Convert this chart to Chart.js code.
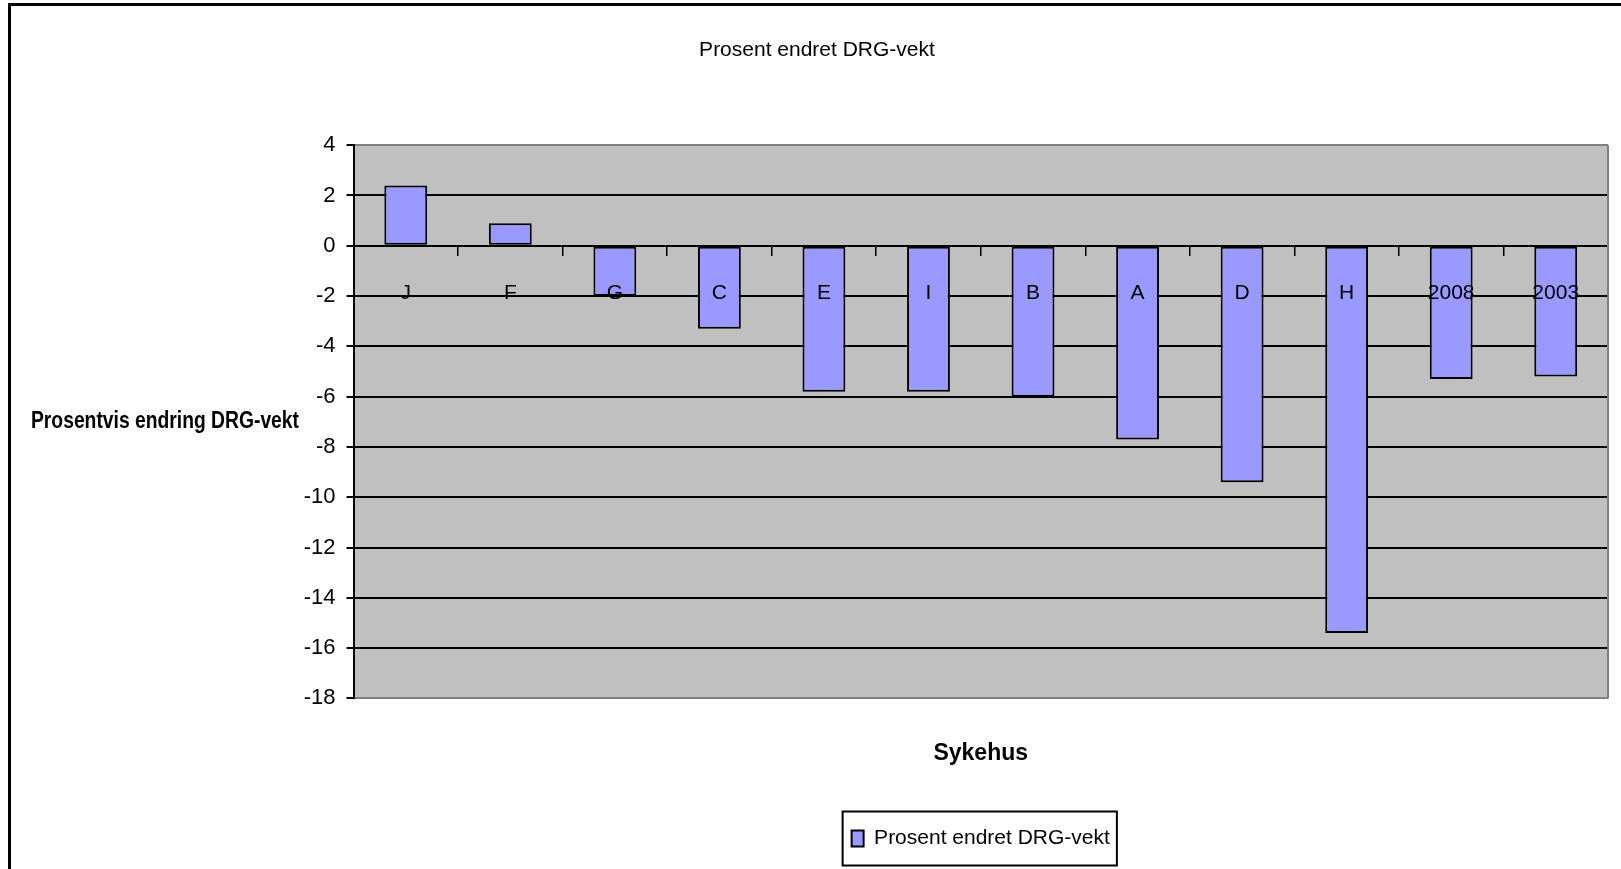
<!DOCTYPE html>
<html>
<head>
<meta charset="utf-8">
<script src="https://cdn.jsdelivr.net/npm/chart.js@4"></script>
<style>
  html, body { margin: 0; padding: 0; background: #fff; }
  #wrap { width: 1621px; height: 869px; }
</style>
</head>
<body>
<div id="wrap"><canvas id="drgChart"></canvas></div>
<script>
const sykehus = ["J", "F", "G", "C", "E", "I", "B", "A", "D", "H", "2008", "2003"];
const endring = [2.4, 0.9, -2.0, -3.3, -5.8, -5.8, -6.0, -7.7, -9.4, -15.4, -5.3, -5.2];
const tittel = "Prosent endret DRG-vekt";
const yTittel = "Prosentvis endring DRG-vekt";
const xTittel = "Sykehus";

const FONT = '"Liberation Sans", Arial, sans-serif';
const STR = 21;

// grå bakgrunn, ramme rundt figuren, liggende y-tittel og ramme rundt legenden
const excelPynt = {
  id: "excelPynt",
  beforeDraw(chart) {
    const { ctx, chartArea: a } = chart;
    ctx.save();
    ctx.fillStyle = "#C0C0C0";
    ctx.fillRect(a.left, a.top, a.right - a.left, a.bottom - a.top);
    ctx.restore();
  },
  afterDraw(chart) {
    const { ctx, chartArea: a, legend } = chart;
    ctx.save();
    ctx.strokeStyle = "#000";
    ctx.lineWidth = 3;
    ctx.strokeRect(9.5, 4.5, 1700, 1000);

    ctx.strokeStyle = "#808080";
    ctx.lineWidth = 2;
    ctx.beginPath();
    ctx.moveTo(a.right, a.top);
    ctx.lineTo(a.right, a.bottom);
    ctx.stroke();

    // y-tittelen ligger vannrett i originalen, smalere skrift
    ctx.fillStyle = "#000";
    ctx.font = "bold 23px " + FONT;
    ctx.textAlign = "center";
    ctx.textBaseline = "middle";
    ctx.fillText(yTittel, 165, (a.top + a.bottom) / 2, 268);

    const hb = legend.legendHitBoxes[0];
    if (hb) {
      const cy = hb.top + hb.height / 2;
      ctx.strokeStyle = "#000";
      ctx.lineWidth = 2;
      ctx.strokeRect(hb.left - 9, cy - 27, hb.width + 16, 54);
    }
    ctx.restore();
  }
};

new Chart(document.getElementById("drgChart"), {
  type: "bar",
  data: {
    labels: sykehus,
    datasets: [{
      label: tittel,
      data: endring,
      xAxisID: "x",
      backgroundColor: "#9999FF",
      borderColor: "#000",
      borderWidth: 2,
      borderSkipped: false,
      barPercentage: 0.41,
      categoryPercentage: 1.0
    }]
  },
  options: {
    responsive: true,
    maintainAspectRatio: false,
    animation: false,
    layout: { padding: { left: 26, right: 13, top: 0, bottom: 10 } },
    plugins: {
      title: {
        display: true,
        text: tittel,
        color: "#000",
        font: { family: FONT, size: STR, weight: "normal" },
        padding: { top: 38, bottom: 82 }
      },
      legend: {
        position: "bottom",
        fullSize: false,
        labels: {
          color: "#000",
          font: { family: FONT, size: STR },
          boxWidth: 12,
          boxHeight: 16,
          padding: 10
        }
      },
      tooltip: { enabled: false }
    },
    scales: {
      x: {
        type: "category",
        position: { y: 0 },
        grid: {
          display: true,
          drawOnChartArea: false,
          offset: true,
          tickLength: 9,
          color: "#000",
          lineWidth: 1.5
        },
        border: { display: true, color: "#000", width: 2, z: 1 },
        ticks: {
          z: 1,
          color: "#000",
          font: { family: FONT, size: STR },
          padding: 26,
          maxRotation: 0,
          autoSkip: false
        }
      },
      x2: {
        type: "category",
        axis: "x",
        position: "bottom",
        grid: { display: false, drawTicks: false },
        border: { display: false },
        ticks: { display: false },
        title: {
          display: true,
          text: xTittel,
          color: "#000",
          font: { family: FONT, size: 23, weight: "bold" },
          padding: { top: 41, bottom: 51 }
        }
      },
      y: {
        min: -18,
        max: 4,
        ticks: {
          stepSize: 2,
          color: "#000",
          font: { family: FONT, size: STR + 1 },
          padding: 11
        },
        grid: {
          color: (c) => (c.tick && (c.tick.value === 4 || c.tick.value === -18)) ? "#808080" : "#000",
          tickColor: "#000",
          lineWidth: 2,
          tickLength: 7
        },
        border: { display: true, color: "#000", width: 2 },
        afterFit(scale) { scale.width = 327.5; }
      }
    }
  },
  plugins: [excelPynt]
});
</script>
</body>
</html>
